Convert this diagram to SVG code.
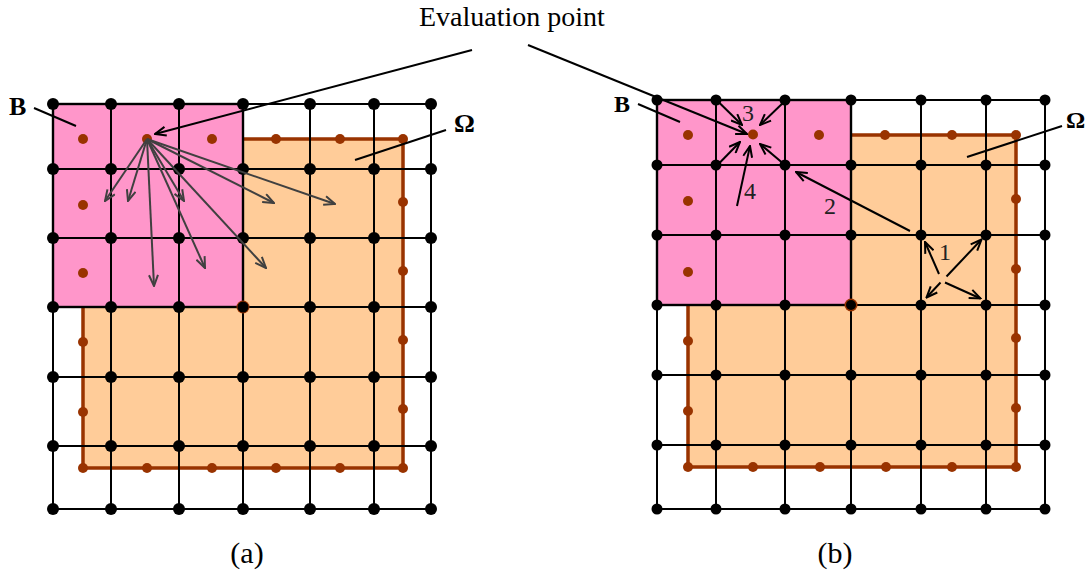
<svg xmlns="http://www.w3.org/2000/svg" width="1090" height="577" viewBox="0 0 1090 577">
<defs>
<style>
.bg{fill:#ffffff}
.omega{fill:#FFCC99;stroke:#993300;stroke-width:3.5}
.bbox{fill:#FF96CA;stroke:#000;stroke-width:2.4}
.grid{stroke:#000;stroke-width:2;fill:none}
.node{fill:#000}
.qp{fill:#993300}
.garrow{stroke:#404040;stroke-width:2;fill:none;marker-end:url(#ga)}
.barrow{stroke:#000;stroke-width:2;fill:none;marker-end:url(#ba)}
.lead{stroke:#000;stroke-width:2;fill:none}
.lbl{font-family:"Liberation Serif","Times New Roman",serif;font-weight:bold;font-size:26px;fill:#000}
.num{font-family:"Liberation Serif","Times New Roman",serif;font-size:24px;fill:#222}
.cap{font-family:"Liberation Serif","Times New Roman",serif;font-size:30px;fill:#000;text-anchor:middle}
.title{font-family:"Liberation Serif","Times New Roman",serif;font-size:28px;fill:#000}
</style>
<marker id="ga" viewBox="0 0 13 11" refX="12" refY="5.5" markerWidth="13" markerHeight="11" markerUnits="userSpaceOnUse" orient="auto">
<path d="M1,1 L12,5.5 L1,10" fill="none" stroke="#404040" stroke-width="2"/>
</marker>
<marker id="ba" viewBox="0 0 13 11" refX="12" refY="5.5" markerWidth="13" markerHeight="11" markerUnits="userSpaceOnUse" orient="auto">
<path d="M1,1 L12,5.5 L1,10" fill="none" stroke="#000" stroke-width="2"/>
</marker>
</defs>
<rect class="bg" x="0" y="0" width="1090" height="577"/>

<!-- Panel (a) -->
<g id="panel-a">
<rect id="a-omega" class="omega" x="83" y="139" width="320" height="329"/>
<rect id="a-B" class="bbox" x="53" y="104" width="190" height="203"/>
<g id="a-grid" class="grid">
<path d="M53,104H431M53,169H431M53,238H431M53,307H431M53,377H431M53,446H431M53,509H431"/>
<path d="M53,104V509M111,104V509M179,104V509M243,104V509M310,104V509M374,104V509M431,104V509"/>
</g>
<g id="a-qpoints" class="qp">
<circle cx="83" cy="139" r="5"/><circle cx="147" cy="139" r="5"/><circle cx="212" cy="139" r="5"/><circle cx="276" cy="139" r="5"/><circle cx="340" cy="139" r="5"/><circle cx="403" cy="139" r="5"/>
<circle cx="83" cy="205" r="5"/><circle cx="83" cy="273" r="5"/><circle cx="83" cy="342" r="5"/><circle cx="83" cy="412" r="5"/><circle cx="83" cy="468" r="5"/>
<circle cx="147" cy="468" r="5"/><circle cx="212" cy="468" r="5"/><circle cx="276" cy="468" r="5"/><circle cx="340" cy="468" r="5"/><circle cx="403" cy="468" r="5"/>
<circle cx="403" cy="202" r="5"/><circle cx="403" cy="271" r="5"/><circle cx="403" cy="340" r="5"/><circle cx="403" cy="409" r="5"/>
<circle cx="243" cy="307" r="6.5"/>
</g>
<g id="a-nodes" class="node">
<circle cx="53" cy="104" r="6"/><circle cx="111" cy="104" r="6"/><circle cx="179" cy="104" r="6"/><circle cx="243" cy="104" r="6"/><circle cx="310" cy="104" r="6"/><circle cx="374" cy="104" r="6"/><circle cx="431" cy="104" r="6"/>
<circle cx="53" cy="169" r="6"/><circle cx="111" cy="169" r="6"/><circle cx="179" cy="169" r="6"/><circle cx="243" cy="169" r="6"/><circle cx="310" cy="169" r="6"/><circle cx="374" cy="169" r="6"/><circle cx="431" cy="169" r="6"/>
<circle cx="53" cy="238" r="6"/><circle cx="111" cy="238" r="6"/><circle cx="179" cy="238" r="6"/><circle cx="243" cy="238" r="6"/><circle cx="310" cy="238" r="6"/><circle cx="374" cy="238" r="6"/><circle cx="431" cy="238" r="6"/>
<circle cx="53" cy="307" r="6"/><circle cx="111" cy="307" r="6"/><circle cx="179" cy="307" r="6"/><circle cx="243" cy="307" r="5.5"/><circle cx="310" cy="307" r="6"/><circle cx="374" cy="307" r="6"/><circle cx="431" cy="307" r="6"/>
<circle cx="53" cy="377" r="6"/><circle cx="111" cy="377" r="6"/><circle cx="179" cy="377" r="6"/><circle cx="243" cy="377" r="6"/><circle cx="310" cy="377" r="6"/><circle cx="374" cy="377" r="6"/><circle cx="431" cy="377" r="6"/>
<circle cx="53" cy="446" r="6"/><circle cx="111" cy="446" r="6"/><circle cx="179" cy="446" r="6"/><circle cx="243" cy="446" r="6"/><circle cx="310" cy="446" r="6"/><circle cx="374" cy="446" r="6"/><circle cx="431" cy="446" r="6"/>
<circle cx="53" cy="509" r="6"/><circle cx="111" cy="509" r="6"/><circle cx="179" cy="509" r="6"/><circle cx="243" cy="509" r="6"/><circle cx="310" cy="509" r="6"/><circle cx="374" cy="509" r="6"/><circle cx="431" cy="509" r="6"/>
</g>
<g id="a-arrows">
<line class="garrow" x1="147" y1="139" x2="105" y2="201"/>
<line class="garrow" x1="147" y1="139" x2="128" y2="201"/>
<line class="garrow" x1="147" y1="139" x2="154" y2="286"/>
<line class="garrow" x1="147" y1="139" x2="184" y2="201"/>
<line class="garrow" x1="147" y1="139" x2="205" y2="268"/>
<line class="garrow" x1="147" y1="139" x2="266" y2="268"/>
<line class="garrow" x1="147" y1="139" x2="274" y2="203"/>
<line class="garrow" x1="147" y1="139" x2="335" y2="204"/>
</g>
<g id="a-labels">
<text class="lbl" x="9" y="115">B</text>
<line class="lead" x1="34" y1="108" x2="76" y2="126"/>
<text class="lbl" x="454" y="132">Ω</text>
<line class="lead" x1="446" y1="130" x2="355" y2="160"/>
</g>
</g>

<!-- Panel (b) -->
<g id="panel-b">
<rect id="b-omega" class="omega" x="688" y="135" width="328" height="332"/>
<rect id="b-B" class="bbox" x="657" y="100" width="194" height="205"/>
<g id="b-grid" class="grid">
<path d="M657,100H1045M657,165H1045M657,235H1045M657,305H1045M657,375H1045M657,445H1045M657,509H1045"/>
<path d="M657,100V509M716,100V509M785,100V509M851,100V509M921,100V509M986,100V509M1045,100V509"/>
</g>
<g id="b-qpoints" class="qp">
<circle cx="688" cy="135" r="5"/><circle cx="753" cy="134.5" r="5"/><circle cx="819" cy="135" r="5"/><circle cx="885" cy="135" r="5"/><circle cx="952" cy="135" r="5"/><circle cx="1016" cy="135" r="5"/>
<circle cx="688" cy="201" r="5"/><circle cx="688" cy="272" r="5"/><circle cx="688" cy="341" r="5"/><circle cx="688" cy="411" r="5"/><circle cx="688" cy="467" r="5"/>
<circle cx="753" cy="467" r="5"/><circle cx="820" cy="467" r="5"/><circle cx="886" cy="467" r="5"/><circle cx="952" cy="467" r="5"/><circle cx="1016" cy="467" r="5"/>
<circle cx="1016" cy="199" r="5"/><circle cx="1016" cy="269" r="5"/><circle cx="1016" cy="338" r="5"/><circle cx="1016" cy="408" r="5"/>
<circle cx="851" cy="305" r="6.5"/>
</g>
<g id="b-nodes" class="node">
<circle cx="657" cy="100" r="5.5"/><circle cx="716" cy="100" r="5.5"/><circle cx="785" cy="100" r="5.5"/><circle cx="851" cy="100" r="5.5"/><circle cx="921" cy="100" r="5.5"/><circle cx="986" cy="100" r="5.5"/><circle cx="1045" cy="100" r="5.5"/>
<circle cx="657" cy="165" r="5.5"/><circle cx="716" cy="165" r="5.5"/><circle cx="785" cy="165" r="5.5"/><circle cx="851" cy="165" r="5.5"/><circle cx="921" cy="165" r="5.5"/><circle cx="986" cy="165" r="5.5"/><circle cx="1045" cy="165" r="5.5"/>
<circle cx="657" cy="235" r="5.5"/><circle cx="716" cy="235" r="5.5"/><circle cx="785" cy="235" r="5.5"/><circle cx="851" cy="235" r="5.5"/><circle cx="921" cy="235" r="5.5"/><circle cx="986" cy="235" r="5.5"/><circle cx="1045" cy="235" r="5.5"/>
<circle cx="657" cy="305" r="5.5"/><circle cx="716" cy="305" r="5.5"/><circle cx="785" cy="305" r="5.5"/><circle cx="851" cy="305" r="5"/><circle cx="921" cy="305" r="5.5"/><circle cx="986" cy="305" r="5.5"/><circle cx="1045" cy="305" r="5.5"/>
<circle cx="657" cy="375" r="5.5"/><circle cx="716" cy="375" r="5.5"/><circle cx="785" cy="375" r="5.5"/><circle cx="851" cy="375" r="5.5"/><circle cx="921" cy="375" r="5.5"/><circle cx="986" cy="375" r="5.5"/><circle cx="1045" cy="375" r="5.5"/>
<circle cx="657" cy="445" r="5.5"/><circle cx="716" cy="445" r="5.5"/><circle cx="785" cy="445" r="5.5"/><circle cx="851" cy="445" r="5.5"/><circle cx="921" cy="445" r="5.5"/><circle cx="986" cy="445" r="5.5"/><circle cx="1045" cy="445" r="5.5"/>
<circle cx="657" cy="509" r="5.5"/><circle cx="716" cy="509" r="5.5"/><circle cx="785" cy="509" r="5.5"/><circle cx="851" cy="509" r="5.5"/><circle cx="921" cy="509" r="5.5"/><circle cx="986" cy="509" r="5.5"/><circle cx="1045" cy="509" r="5.5"/>
</g>
<g id="b-arrows">
<line class="barrow" x1="716.5" y1="100" x2="742" y2="125"/>
<line class="barrow" x1="786" y1="100" x2="760" y2="125"/>
<line class="barrow" x1="716.5" y1="166" x2="740" y2="142"/>
<line class="barrow" x1="785" y1="165" x2="760" y2="144"/>
<line class="barrow" x1="737" y1="206" x2="750" y2="146"/>
<line class="barrow" x1="910" y1="231" x2="796" y2="172"/>
<line class="barrow" x1="939" y1="274" x2="925" y2="242"/>
<line class="barrow" x1="946.5" y1="276.5" x2="981.5" y2="239.5"/>
<line class="barrow" x1="940.5" y1="282.5" x2="926.5" y2="297.5"/>
<line class="barrow" x1="945" y1="282.5" x2="980.5" y2="298.5"/>
</g>
<g id="b-labels">
<text class="lbl" x="614" y="112" style="font-size:24px">B</text>
<line class="lead" x1="638" y1="104" x2="680" y2="122"/>
<text class="lbl" x="1066" y="128" style="font-size:24px">Ω</text>
<line class="lead" x1="1062" y1="126" x2="967" y2="157"/>
<text class="num" x="748" y="121" text-anchor="middle">3</text>
<text class="num" x="750" y="199" text-anchor="middle">4</text>
<text class="num" x="830" y="214" text-anchor="middle">2</text>
<text class="num" x="945" y="260" text-anchor="middle">1</text>
</g>
</g>

<!-- Evaluation point callout -->
<g id="eval-label">
<text class="title" x="419" y="26">Evaluation point</text>
<line class="barrow" x1="472" y1="50" x2="155" y2="134"/>
<line class="barrow" x1="528" y1="45" x2="747" y2="134"/>
</g>

<g id="captions">
<text class="cap" x="247" y="563">(a)</text>
<text class="cap" x="835" y="563">(b)</text>
</g>
</svg>
